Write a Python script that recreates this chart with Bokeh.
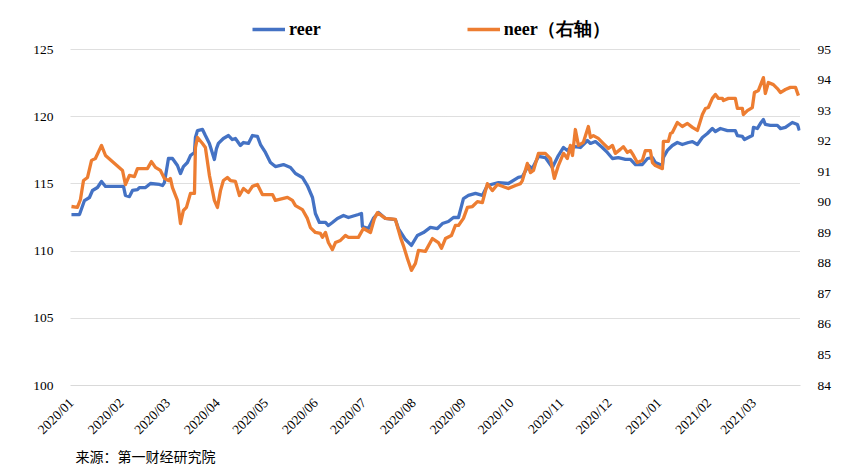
import pandas as pd
from math import pi
from bokeh.plotting import figure
from bokeh.models import (Range1d, LinearAxis, FixedTicker, Legend, LegendItem, Title)
from bokeh.embed import file_html
from bokeh.resources import INLINE

START = pd.Timestamp("2020-01-02")

month_labels = ["2020/01", "2020/02", "2020/03", "2020/04", "2020/05", "2020/06",
                "2020/07", "2020/08", "2020/09", "2020/10", "2020/11", "2020/12",
                "2021/01", "2021/02", "2021/03"]
left_ticks = [100, 105, 110, 115, 120, 125]
right_ticks = list(range(84, 96))

# days since 2020-01-02
reer_days = [0, 5, 8.1, 11.2, 13.1, 16.2, 18.7, 21.2, 32.4, 33.6,
             36.1, 38.0, 41.1, 42.3, 46.1, 49.2, 54.8, 56.7, 57.9, 60.4,
             62.9, 66.0, 67.9, 69.7, 72.2, 74.1, 76.6, 77.2, 78.5, 81.6,
             83.4, 85.9, 89.0, 90.3, 91.5, 94.6, 97.8, 100.2, 102.1, 105.2,
             107.1, 110.2, 112.7, 115.8, 117.7, 120.8, 123.9, 127.0, 132.0, 136.4,
             139.5, 143.8, 146.9, 150.1, 151.9, 154.4, 158.2, 160.0, 162.5, 165.6,
             169.4, 172.5, 178.7, 180.6, 181.2, 184.9, 188.0, 191.2, 195.5, 201.7,
             203.6, 208.0, 211.7, 215.4, 219.2, 223.5, 227.9, 231.0, 234.7, 237.9,
             241.0, 244.1, 247.2, 251.6, 255.9, 259.0, 265.9, 272.1, 278.3, 280.8,
             284.6, 287.0, 290.8, 295.1, 299.5, 303.2, 306.4, 308.8, 310.7, 313.8,
             316.9, 321.3, 323.2, 326.3, 330.6, 333.7, 336.9, 340.6, 345.0, 348.1,
             351.2, 355.5, 358.7, 361.8, 363.6, 368.0, 368.6, 371.1, 374.2, 377.3,
             380.4, 384.2, 386.7, 389.8, 392.9, 396.0, 399.1, 401.0, 404.1, 408.5,
             413.4, 414.7, 417.8, 419.1, 421.5, 424.0, 424.7, 427.1, 429.0, 430.9,
             432.1, 435.2, 439.6, 441.5, 444.6, 448.9, 452.1, 453.3]
reer = [112.72, 112.72, 113.76, 113.99, 114.51, 114.73, 115.18, 114.81, 114.81, 114.14,
        114.06, 114.51, 114.58, 114.73, 114.73, 115.03, 114.96, 114.88, 115.10, 116.89,
        116.89, 116.37, 115.77, 116.29, 116.59, 117.11, 117.34, 118.45, 118.97, 119.05,
        118.60, 118.01, 116.82, 117.63, 118.01, 118.38, 118.60, 118.30, 118.38, 117.86,
        118.08, 118.01, 118.60, 118.53, 117.93, 117.34, 116.59, 116.29, 116.44, 116.22,
        115.77, 115.48, 114.88, 113.99, 112.80, 112.13, 112.13, 111.90, 112.13, 112.43,
        112.65, 112.50, 112.72, 112.80, 111.83, 111.68, 112.43, 112.87, 112.43, 112.35,
        111.68, 110.86, 110.42, 111.16, 111.38, 111.76, 111.68, 112.05, 112.20, 112.50,
        112.50, 113.91, 114.14, 114.29, 114.14, 114.88, 115.10, 115.03, 115.48, 115.55,
        116.37, 116.15, 117.04, 116.96, 116.22, 117.11, 117.71, 117.49, 117.71, 117.78,
        117.71, 118.23, 118.01, 118.15, 117.71, 117.34, 116.89, 116.96, 116.82, 116.82,
        116.44, 116.44, 116.89, 116.96, 116.59, 116.37, 116.96, 117.49, 117.86, 118.08,
        117.93, 118.08, 118.15, 117.93, 118.45, 118.75, 119.12, 118.90, 119.12, 118.97,
        118.97, 118.60, 118.53, 118.30, 118.45, 118.60, 119.20, 119.12, 119.49, 119.79,
        119.42, 119.35, 119.35, 119.12, 119.20, 119.57, 119.42, 118.97]

neer_days = [0, 3.7, 5.6, 7.5, 10.0, 12.5, 14.9, 18.7, 21.2, 31.8,
             33.6, 36.1, 39.2, 41.1, 47.3, 49.8, 52.3, 55.4, 57.9, 60.4,
             61.6, 62.9, 66.0, 67.9, 69.7, 71.6, 74.1, 76.6, 77.2, 78.5,
             81.6, 83.4, 85.9, 89.0, 90.9, 92.8, 94.6, 97.1, 99.0, 102.1,
             104.6, 107.1, 110.2, 112.7, 115.8, 118.9, 125.2, 127.0, 131.4, 134.5,
             137.6, 139.5, 143.8, 146.9, 148.8, 151.9, 155.0, 156.3, 158.2, 160.0,
             162.5, 164.4, 167.5, 170.6, 172.5, 178.7, 181.8, 186.2, 188.7, 190.5,
             195.5, 201.7, 204.9, 206.7, 209.2, 211.7, 214.2, 216.1, 220.4, 224.8,
             228.5, 230.4, 232.9, 236.6, 239.1, 241.0, 244.1, 246.6, 249.7, 252.8,
             255.9, 259.0, 262.1, 265.3, 272.1, 276.5, 279.6, 280.8, 283.9, 285.8,
             287.7, 290.8, 295.1, 298.3, 300.7, 303.2, 306.4, 308.8, 310.7, 312.0,
             313.8, 315.7, 318.8, 321.9, 323.2, 325.0, 328.1, 331.3, 334.4, 336.9,
             338.7, 341.8, 343.7, 346.2, 348.1, 350.0, 352.4, 355.5, 357.4, 360.5,
             361.8, 363.6, 368.0, 368.6, 371.7, 373.0, 374.2, 377.3, 380.4, 383.6,
             386.7, 389.8, 392.9, 394.8, 396.6, 399.1, 401.0, 402.9, 405.4, 406.0,
             409.1, 413.4, 414.7, 417.8, 418.4, 420.9, 424.0, 425.3, 427.8, 430.9,
             432.1, 434.0, 437.1, 439.6, 441.5, 444.6, 447.7, 450.9, 452.7]
neer = [89.86, 89.83, 90.09, 90.71, 90.81, 91.37, 91.43, 91.86, 91.53, 91.04,
        90.58, 90.88, 90.84, 91.10, 91.10, 91.33, 91.14, 91.04, 90.78, 90.71,
        90.78, 90.48, 90.06, 89.30, 89.73, 89.83, 90.29, 90.29, 91.79, 92.12,
        91.92, 91.79, 90.88, 90.06, 89.83, 90.38, 90.71, 90.81, 90.71, 90.68,
        90.22, 90.45, 90.32, 90.52, 90.58, 90.25, 90.25, 90.06, 90.12, 90.16,
        90.06, 89.89, 89.76, 89.47, 89.17, 89.01, 88.98, 88.85, 89.01, 88.68,
        88.45, 88.68, 88.75, 88.91, 88.85, 88.85, 89.14, 89.01, 89.47, 89.66,
        89.47, 89.44, 88.85, 88.58, 88.16, 87.77, 88.00, 88.42, 88.39, 88.81,
        88.68, 88.49, 88.81, 88.91, 89.24, 89.24, 89.47, 89.83, 89.86, 90.02,
        89.99, 90.61, 90.38, 90.58, 90.45, 90.55, 90.61, 90.71, 91.27, 90.97,
        91.04, 91.60, 91.60, 91.43, 90.78, 91.20, 91.60, 91.43, 91.86, 91.53,
        92.38, 91.86, 91.96, 92.48, 92.12, 92.18, 92.09, 91.92, 91.76, 91.86,
        91.60, 91.73, 91.82, 91.63, 91.69, 91.53, 91.30, 91.37, 91.69, 91.69,
        91.30, 91.20, 91.10, 91.99, 91.99, 92.25, 92.28, 92.61, 92.48, 92.58,
        92.45, 92.35, 92.87, 93.07, 93.10, 93.40, 93.53, 93.40, 93.40, 93.33,
        93.40, 93.40, 93.07, 93.07, 92.87, 93.00, 93.10, 93.59, 93.66, 94.08,
        93.56, 93.92, 93.85, 93.72, 93.59, 93.69, 93.76, 93.76, 93.49]

tick_pos = [(pd.Timestamp(m.replace("/", "-") + "-02") - START).days for m in month_labels]

SERIF = "Liberation Serif"

# layout (pixels): the plotting frame is extended upward so that the legend
# row sits inside it; ticks/grid stay on the 100-125 / 84-95 ranges.
FRAME_TOP, AXIS_TOP, AXIS_BOTTOM = 12, 49, 385
extra_px = AXIS_TOP - FRAME_TOP
span_px = AXIS_BOTTOM - AXIS_TOP
l_lo, l_hi = left_ticks[0], left_ticks[-1]
r_lo, r_hi = right_ticks[0], right_ticks[-1]
left_top = l_hi + extra_px * (l_hi - l_lo) / span_px
right_top = r_hi + extra_px * (r_hi - r_lo) / span_px

p = figure(width=863, height=476, output_backend="svg", toolbar_location=None,
           x_range=Range1d(-0.6, 454.0), y_range=Range1d(l_lo, left_top),
           min_border_left=70, min_border_right=63, min_border_top=FRAME_TOP,
           min_border_bottom=476 - AXIS_BOTTOM,
           background_fill_color="white", border_fill_color="white")
p.outline_line_color = None
p.extra_y_ranges = {"right": Range1d(r_lo, right_top)}

r1 = p.line(reer_days, reer, line_color="#4472C4", line_width=3.3, line_join="round")
r2 = p.line(neer_days, neer, line_color="#ED7D31", line_width=3.3, line_join="round",
            y_range_name="right")

# x axis
xa = p.xaxis[0]
xa.ticker = FixedTicker(ticks=tick_pos)
xa.major_label_overrides = {t: lab for t, lab in zip(tick_pos, month_labels)}
xa.major_label_orientation = pi / 4
xa.axis_line_color = "#D9D9D9"
xa.axis_line_width = 1
xa.major_tick_line_color = None
xa.minor_tick_line_color = None
xa.major_label_text_font = SERIF
xa.major_label_text_font_size = "13.5px"
xa.major_label_text_color = "#000000"
xa.major_label_standoff = 9

# left axis
ya = p.yaxis[0]
ya.ticker = FixedTicker(ticks=left_ticks)
ya.axis_line_color = None
ya.major_tick_line_color = None
ya.minor_tick_line_color = None
ya.major_label_text_font = SERIF
ya.major_label_text_font_size = "13.5px"
ya.major_label_text_color = "#000000"
ya.major_label_standoff = 11

# right axis
ra = LinearAxis(y_range_name="right", ticker=FixedTicker(ticks=right_ticks))
ra.axis_line_color = None
ra.major_tick_line_color = None
ra.minor_tick_line_color = None
ra.major_label_text_font = SERIF
ra.major_label_text_font_size = "13.5px"
ra.major_label_text_color = "#000000"
ra.major_label_standoff = 11
p.add_layout(ra, "right")

p.xgrid.visible = False
p.ygrid.grid_line_color = "#BFBFBF"
p.ygrid.grid_line_dash = "1 1"
p.ygrid.grid_line_width = 1

legend = Legend(items=[LegendItem(label="reer", renderers=[r1]),
                       LegendItem(label="neer（右轴）", renderers=[r2])],
                orientation="horizontal", location=(182, 344),
                glyph_width=33, glyph_height=16, label_standoff=4, spacing=146,
                padding=4, margin=0,
                border_line_color=None, background_fill_alpha=0,
                label_text_font=SERIF, label_text_font_size="18px",
                label_text_font_style="bold",
                label_text_color="#000000")
p.add_layout(legend)

src = Title(text="来源：第一财经研究院", align="left", offset=5, standoff=0,
            vertical_align="top",
            text_font="Noto Sans CJK SC", text_font_size="14px",
            text_font_style="normal", text_color="#000000")
p.add_layout(src, "below")

open("out.html", "w").write(file_html(p, INLINE))
